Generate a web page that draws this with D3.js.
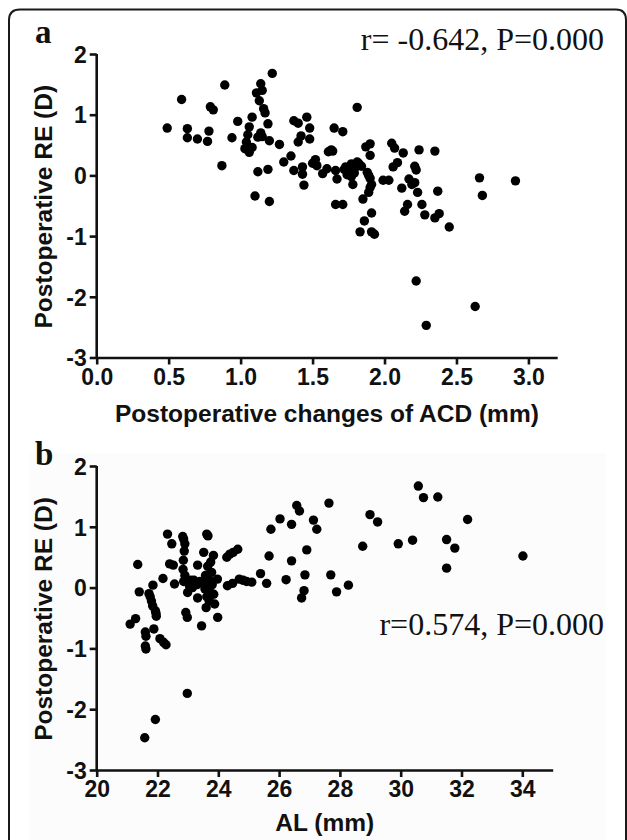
<!DOCTYPE html>
<html>
<head>
<meta charset="utf-8">
<script src="https://cdn.jsdelivr.net/npm/d3@7/dist/d3.min.js"></script>
<style>
  body { margin: 0; background: #fff; }
  svg { display: block; }
</style>
</head>
<body>
<div id="plot"></div>
<script>
// panel a: postoperative change of ACD (mm) vs postoperative RE (D)
const acdX = [0.49,0.59,0.63,0.63,0.70,0.77,0.78,0.79,0.81,0.87,0.89,0.94,0.98,1.03,1.04,1.05,1.06,1.06,1.08,1.10,
  1.12,1.11,1.14,1.15,1.13,1.14,1.16,1.17,1.15,1.19,1.19,1.20,1.20,1.22,1.27,1.30,1.35,1.37,1.37,1.40,
  1.40,1.42,1.43,1.43,1.44,1.46,1.48,1.48,1.52,1.53,1.57,1.60,1.61,1.63,1.65,1.66,1.67,1.66,1.71,1.71,
  1.73,1.74,1.76,1.77,1.78,1.80,1.81,1.82,1.83,1.85,1.86,1.87,1.88,1.89,1.90,1.90,1.90,1.91,1.91,1.91,
  1.93,1.99,2.03,2.05,2.06,2.07,2.09,2.12,2.13,2.14,2.16,2.17,2.19,2.22,2.21,2.22,2.23,2.24,2.21,2.26,
  2.28,2.29,2.35,2.35,2.37,2.38,2.45,2.63,2.66,2.68,2.91,1.75,1.79,1.81,1.77,1.84,1.72,1.64,1.90,1.89,
  1.50,1.08,1.12];
const acdRE = [0.78,1.25,0.77,0.62,0.60,0.56,0.73,1.13,1.08,0.16,1.49,0.62,0.89,0.44,0.55,0.67,0.80,0.38,0.96,-0.34,
  0.06,1.36,1.51,1.40,1.23,0.70,1.10,1.03,0.64,0.85,0.10,-0.43,0.57,1.68,0.51,0.22,0.32,0.08,0.90,0.86,
  0.55,0.65,0.14,0.02,-0.16,0.96,0.78,0.60,0.26,0.16,0.03,0.11,0.39,0.42,0.78,0.08,-0.06,-0.48,0.72,-0.48,
  0.14,0.01,0.07,0.19,-0.15,0.14,1.12,0.20,-0.93,-0.39,-0.75,0.47,0.05,-0.28,0.52,0.33,-0.05,-0.15,-0.62,-0.93,
  -0.97,-0.08,-0.08,0.53,0.14,0.45,0.21,-0.21,0.37,-0.59,-0.48,-0.06,-0.15,-1.74,0.15,0.09,-0.28,0.42,-0.12,-0.48,
  -0.65,-2.47,-0.70,0.40,-0.26,-0.63,-0.85,-2.16,-0.04,-0.33,-0.09,0.12,0.04,0.22,-0.02,0.15,0.10,0.40,-0.20,0.00,
  0.20,0.46,0.63];

// panel b: AL (mm) vs postoperative RE (D)
const alX = [21.10,21.28,21.35,21.40,21.58,21.60,21.62,21.60,21.62,21.72,21.76,21.80,21.84,21.85,21.88,21.93,21.93,21.96,21.95,
  22.08,22.20,22.28,22.18,22.33,22.40,22.47,22.56,22.52,22.83,22.86,22.90,22.88,22.85,22.84,22.90,22.86,
  22.93,22.98,22.98,22.99,23.05,23.10,23.20,23.32,23.32,23.45,23.50,23.58,23.56,23.52,23.62,23.60,23.66,23.68,
  23.72,23.78,23.75,23.84,23.85,23.88,23.97,23.98,23.70,23.65,23.80,23.40,23.30,23.55,23.62,23.70,23.15,
  24.28,24.38,24.49,24.64,24.30,24.47,24.69,24.82,24.93,25.10,25.39,25.59,25.67,25.73,26.03,26.23,26.41,26.41,
  26.58,26.67,26.74,26.82,26.85,26.91,27.13,27.24,27.64,27.70,27.89,28.28,28.75,28.99,29.24,29.92,30.39,30.58,
  30.75,31.22,31.51,31.51,31.78,32.20,34.02];
const alRE = [-0.60,-0.51,0.38,-0.07,-2.47,-0.73,-0.80,-0.96,-1.01,-0.10,-0.15,-0.22,-0.30,0.04,-0.68,-2.17,-0.38,-0.47,-0.42,
  -0.84,-0.90,-0.94,0.15,0.88,0.39,0.72,0.06,0.37,0.84,0.80,0.72,0.60,0.45,0.30,0.20,0.10,
  -0.41,-0.49,-1.74,-0.08,0.03,0.12,0.12,0.37,-0.17,-0.63,0.09,0.20,-0.02,0.58,0.88,-0.33,0.85,0.14,
  0.01,0.25,0.42,0.53,-0.11,-0.27,0.14,-0.49,-0.06,0.35,0.05,0.10,0.05,0.10,-0.15,-0.22,0.00,
  0.50,0.55,0.58,0.63,0.03,0.07,0.14,0.12,0.10,0.09,0.23,0.07,0.52,0.96,1.13,0.13,1.04,0.44,
  1.35,1.26,-0.17,-0.05,0.21,0.62,1.11,0.96,1.39,0.21,-0.07,0.04,0.68,1.20,1.08,0.72,0.78,1.67,
  1.48,1.49,0.79,0.32,0.65,1.12,0.52];

const yTicks = [-3, -2, -1, 0, 1, 2];
const acdTicks = [0, 0.5, 1, 1.5, 2, 2.5, 3];
const alTicks = [20, 22, 24, 26, 28, 30, 32, 34];

const width = 627;
const height = 840;
const sans = "'Liberation Sans', Arial, sans-serif";
const serif = "'Liberation Serif', 'Times New Roman', serif";

// plain hyphen for negatives, like the original figure
const hyphen = fmt => d => fmt(d).replace('\u2212', '-');

const svg = d3.select('#plot').append('svg')
  .attr('width', width)
  .attr('height', height);

// faint backdrop of the pasted panel b
svg.append('rect')
  .attr('x', 30).attr('y', 453)
  .attr('width', 576).attr('height', 390)
  .attr('fill', '#fcfcfc');

// outer frame (open at the bottom)
svg.append('path')
  .attr('d', 'M9,842 L9,20 Q9,9.5 20,9.5 L616,9.5 Q626,9.5 626,20 L626,842')
  .attr('fill', 'none')
  .attr('stroke', '#1a1a1a')
  .attr('stroke-width', 2);

const scatterPanel = (props) => {
  const { xs, ys, xDomain, xRange, yRange, xTickVals, xFmt, xTitle, xTitleY, letter, letterY, note, noteY } = props;

  const x = d3.scaleLinear().domain(xDomain).range(xRange);
  const y = d3.scaleLinear().domain([-3, 2]).range(yRange);

  const g = svg.append('g');

  const xAxis = g.append('g')
    .attr('transform', `translate(0, ${yRange[0]})`)
    .call(d3.axisBottom(x).tickValues(xTickVals).tickFormat(xFmt)
      .tickSize(7).tickSizeOuter(0).tickPadding(4));

  const yAxis = g.append('g')
    .attr('transform', `translate(${xRange[0]}, 0)`)
    .call(d3.axisLeft(y).tickValues(yTicks).tickFormat(hyphen(d3.format('d')))
      .tickSize(7).tickSizeOuter(0).tickPadding(3));

  [xAxis, yAxis].forEach(ax => {
    ax.select('.domain').attr('stroke', '#111').attr('stroke-width', 2.6);
    ax.selectAll('.tick line').attr('stroke', '#111').attr('stroke-width', 2.6);
    ax.selectAll('.tick text')
      .attr('fill', '#111')
      .style('font-family', sans)
      .style('font-weight', 'bold')
      .style('font-size', '23px');
  });
  // y axis line reaches the x axis
  yAxis.select('.domain').attr('d', `M0,${yRange[0] + 1.3}V${yRange[1]}`);
  yAxis.selectAll('.tick text').attr('dy', '0.36em');

  g.append('text')
    .attr('transform', `translate(52, ${(yRange[0] + yRange[1]) / 2 + 1}) rotate(-90)`)
    .attr('text-anchor', 'middle')
    .style('font-family', sans)
    .style('font-weight', 'bold')
    .style('font-size', '24.5px')
    .attr('fill', '#111')
    .text('Postoperative RE (D)');

  g.append('text')
    .attr('x', (xRange[0] + xRange[1]) / 2)
    .attr('y', xTitleY)
    .attr('text-anchor', 'middle')
    .style('font-family', sans)
    .style('font-weight', 'bold')
    .style('font-size', '24.5px')
    .attr('fill', '#111')
    .text(xTitle);

  g.append('text')
    .attr('x', 35)
    .attr('y', letterY)
    .style('font-family', serif)
    .style('font-weight', 'bold')
    .style('font-size', '33px')
    .attr('fill', '#111')
    .text(letter);

  g.append('text')
    .attr('x', 604)
    .attr('y', noteY)
    .attr('text-anchor', 'end')
    .style('font-family', serif)
    .style('font-size', '32px')
    .attr('fill', '#111')
    .text(note);

  g.selectAll('.dot').data(d3.range(xs.length))
    .enter().append('circle')
    .attr('class', 'dot')
    .attr('cx', i => x(xs[i]))
    .attr('cy', i => y(ys[i]))
    .attr('r', 4.7)
    .attr('fill', '#000');
};

scatterPanel({
  xs: acdX, ys: acdRE,
  xDomain: [0, 3.2], xRange: [96.7, 557.2], yRange: [357.5, 54],
  xTickVals: acdTicks, xFmt: d3.format('.1f'),
  xTitle: 'Postoperative changes of ACD (mm)', xTitleY: 422,
  letter: 'a', letterY: 43,
  note: 'r= -0.642, P=0.000', noteY: 50
});

scatterPanel({
  xs: alX, ys: alRE,
  xDomain: [20, 35], xRange: [96.7, 552.7], yRange: [770, 466],
  xTickVals: alTicks, xFmt: d3.format('d'),
  xTitle: 'AL (mm)', xTitleY: 831,
  letter: 'b', letterY: 465,
  note: 'r=0.574, P=0.000', noteY: 635
});
</script>
</body>
</html>
